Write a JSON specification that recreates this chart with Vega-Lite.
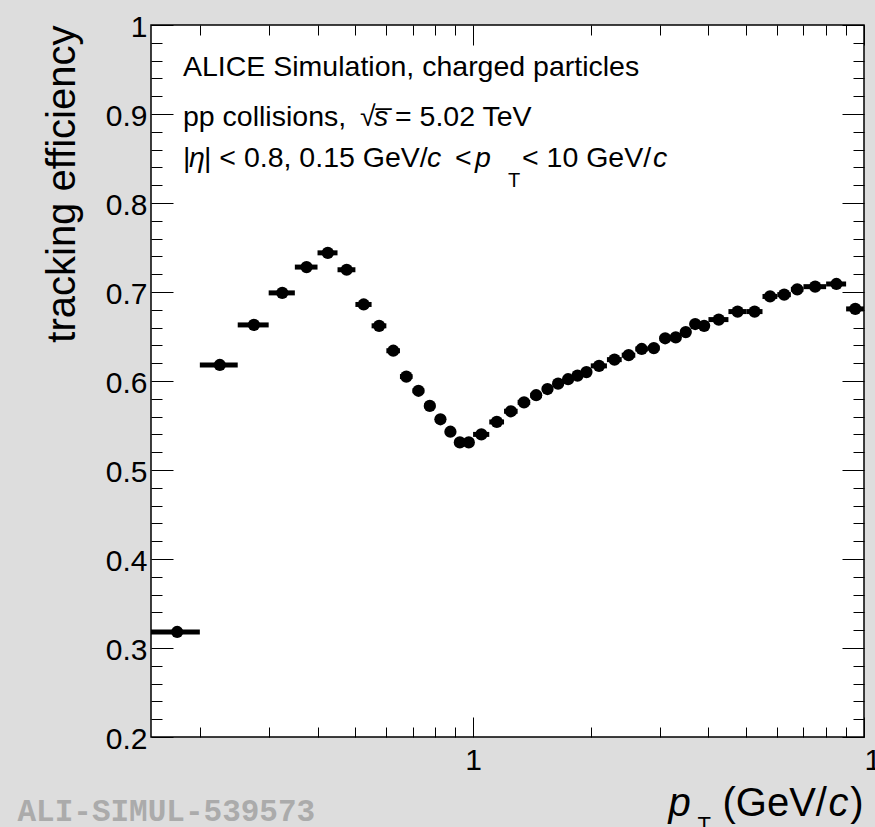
{
  "$schema": "https://vega.github.io/schema/vega-lite/v6.json",
  "width": 713,
  "height": 712,
  "autosize": {"type": "none"},
  "padding": {"left": 151, "top": 25, "right": 11, "bottom": 90},
  "background": "#dddddd",
  "config": {
    "view": {"fill": "white", "stroke": "black", "strokeWidth": 1.5},
    "axis": {
      "domain": false, "grid": false, "tickColor": "black", "tickWidth": 1,
      "labelFont": "Liberation Sans", "labelFontSize": 30, "labelColor": "black",
      "titleFont": "Liberation Sans", "titleFontSize": 40, "titleColor": "black", "titleFontWeight": "normal"
    },
    "text": {"font": "Liberation Sans", "fontSize": 28.5, "color": "black", "align": "left", "baseline": "alphabetic"}
  },
  "datasets": {
    "bins": [
      {"pt": 0.175, "lo": 0.15, "hi": 0.2, "eff": 0.318},
      {"pt": 0.225, "lo": 0.2, "hi": 0.25, "eff": 0.618},
      {"pt": 0.275, "lo": 0.25, "hi": 0.3, "eff": 0.663},
      {"pt": 0.325, "lo": 0.3, "hi": 0.35, "eff": 0.699},
      {"pt": 0.375, "lo": 0.35, "hi": 0.4, "eff": 0.728},
      {"pt": 0.425, "lo": 0.4, "hi": 0.45, "eff": 0.744},
      {"pt": 0.475, "lo": 0.45, "hi": 0.5, "eff": 0.725},
      {"pt": 0.525, "lo": 0.5, "hi": 0.55, "eff": 0.686},
      {"pt": 0.575, "lo": 0.55, "hi": 0.6, "eff": 0.662},
      {"pt": 0.625, "lo": 0.6, "hi": 0.65, "eff": 0.634},
      {"pt": 0.675, "lo": 0.65, "hi": 0.7, "eff": 0.605},
      {"pt": 0.725, "lo": 0.7, "hi": 0.75, "eff": 0.589},
      {"pt": 0.775, "lo": 0.75, "hi": 0.8, "eff": 0.572},
      {"pt": 0.825, "lo": 0.8, "hi": 0.85, "eff": 0.557},
      {"pt": 0.875, "lo": 0.85, "hi": 0.9, "eff": 0.543},
      {"pt": 0.925, "lo": 0.9, "hi": 0.95, "eff": 0.531},
      {"pt": 0.975, "lo": 0.95, "hi": 1.0, "eff": 0.531},
      {"pt": 1.05, "lo": 1.0, "hi": 1.1, "eff": 0.540},
      {"pt": 1.15, "lo": 1.1, "hi": 1.2, "eff": 0.554},
      {"pt": 1.25, "lo": 1.2, "hi": 1.3, "eff": 0.566},
      {"pt": 1.35, "lo": 1.3, "hi": 1.4, "eff": 0.576},
      {"pt": 1.45, "lo": 1.4, "hi": 1.5, "eff": 0.584},
      {"pt": 1.55, "lo": 1.5, "hi": 1.6, "eff": 0.591},
      {"pt": 1.65, "lo": 1.6, "hi": 1.7, "eff": 0.597},
      {"pt": 1.75, "lo": 1.7, "hi": 1.8, "eff": 0.602},
      {"pt": 1.85, "lo": 1.8, "hi": 1.9, "eff": 0.606},
      {"pt": 1.95, "lo": 1.9, "hi": 2.0, "eff": 0.610},
      {"pt": 2.1, "lo": 2.0, "hi": 2.2, "eff": 0.617},
      {"pt": 2.3, "lo": 2.2, "hi": 2.4, "eff": 0.624},
      {"pt": 2.5, "lo": 2.4, "hi": 2.6, "eff": 0.629},
      {"pt": 2.7, "lo": 2.6, "hi": 2.8, "eff": 0.636},
      {"pt": 2.9, "lo": 2.8, "hi": 3.0, "eff": 0.637},
      {"pt": 3.1, "lo": 3.0, "hi": 3.2, "eff": 0.648},
      {"pt": 3.3, "lo": 3.2, "hi": 3.4, "eff": 0.649},
      {"pt": 3.5, "lo": 3.4, "hi": 3.6, "eff": 0.655},
      {"pt": 3.7, "lo": 3.6, "hi": 3.8, "eff": 0.664},
      {"pt": 3.9, "lo": 3.8, "hi": 4.0, "eff": 0.662},
      {"pt": 4.25, "lo": 4.0, "hi": 4.5, "eff": 0.669},
      {"pt": 4.75, "lo": 4.5, "hi": 5.0, "eff": 0.678},
      {"pt": 5.25, "lo": 5.0, "hi": 5.5, "eff": 0.678},
      {"pt": 5.75, "lo": 5.5, "hi": 6.0, "eff": 0.695},
      {"pt": 6.25, "lo": 6.0, "hi": 6.5, "eff": 0.697},
      {"pt": 6.75, "lo": 6.5, "hi": 7.0, "eff": 0.703},
      {"pt": 7.5, "lo": 7.0, "hi": 8.0, "eff": 0.706},
      {"pt": 8.5, "lo": 8.0, "hi": 9.0, "eff": 0.709},
      {"pt": 9.5, "lo": 9.0, "hi": 10.0, "eff": 0.681}
    ],
    "labelsNormal": [
      {"x": 0.1811, "y": 0.9427, "text": "ALICE Simulation, charged particles"},
      {"x": 0.1811, "y": 0.8865, "text": "pp collisions,"},
      {"x": 0.5138, "y": 0.8865, "text": "√"},
      {"x": 0.6314, "y": 0.8865, "text": "= 5.02 TeV"},
      {"x": 0.1811, "y": 0.8404, "text": "|"},
      {"x": 0.2050, "y": 0.8404, "text": "| < 0.8, 0.15 GeV/"},
      {"x": 0.8989, "y": 0.8404, "text": "<"},
      {"x": 1.3341, "y": 0.8404, "text": "< 10 GeV/"}
    ],
    "labelsItalic": [
      {"x": 0.5579, "y": 0.8865, "text": "s̅"},
      {"x": 0.1876, "y": 0.8404, "text": "η"},
      {"x": 0.7623, "y": 0.8404, "text": "c"},
      {"x": 1.0115, "y": 0.8404, "text": "p"},
      {"x": 2.886, "y": 0.8404, "text": "c"}
    ],
    "labelsSub": [
      {"x": 1.2284, "y": 0.8180, "text": "T"}
    ]
  },
  "resolve": {"axis": {"x": "independent", "y": "independent"}},
  "layer": [
    {
      "data": {"name": "bins"},
      "mark": {"type": "rule", "color": "black", "strokeWidth": 5},
      "encoding": {
        "x": {
          "field": "lo", "type": "quantitative",
          "scale": {"type": "log", "domain": [0.15, 10], "nice": false},
          "axis": {
            "orient": "bottom", "values": [1, 10], "tickSize": -20, "format": "~g", "labelPadding": 28,
            "labelAlign": {"condition": {"test": "datum.value == 10", "value": "left"}, "value": "center"},
            "title": "p", "titleFontStyle": "italic", "titleX": 517, "titleY": 78, "titleAlign": "left", "titleBaseline": "alphabetic"
          }
        },
        "x2": {"field": "hi"},
        "y": {
          "field": "eff", "type": "quantitative",
          "scale": {"domain": [0.2, 1], "nice": false, "zero": false},
          "axis": {
            "orient": "left", "values": [0.2, 0.3, 0.4, 0.5, 0.6, 0.7, 0.8, 0.9, 1], "tickSize": -22, "format": "~g", "labelPadding": 26, "labelOffset": 2,
            "title": "tracking efficiency", "titleAngle": 270, "titleX": -69, "titleY": 0, "titleAlign": "right", "titleBaseline": "bottom"
          }
        }
      }
    },
    {
      "data": {"name": "bins"},
      "mark": {"type": "point", "filled": true, "color": "black", "opacity": 1, "size": 150},
      "encoding": {
        "x": {
          "field": "pt", "type": "quantitative",
          "scale": {"type": "log", "domain": [0.15, 10], "nice": false},
          "axis": {
            "orient": "bottom", "values": [0.2, 0.3, 0.4, 0.5, 0.6, 0.7, 0.8, 0.9, 2, 3, 4, 5, 6, 7, 8, 9], "tickSize": -10, "labels": false,
            "title": "(GeV/", "titleX": 571, "titleY": 78, "titleAlign": "left", "titleBaseline": "alphabetic"
          }
        },
        "y": {
          "field": "eff", "type": "quantitative",
          "scale": {"domain": [0.2, 1], "nice": false, "zero": false},
          "axis": {
            "orient": "left", "values": [0.22, 0.24, 0.26, 0.28, 0.32, 0.34, 0.36, 0.38, 0.42, 0.44, 0.46, 0.48, 0.52, 0.54, 0.56, 0.58, 0.62, 0.64, 0.66, 0.68, 0.72, 0.74, 0.76, 0.78, 0.82, 0.84, 0.86, 0.88, 0.92, 0.94, 0.96, 0.98],
            "tickSize": -11, "labels": false,
            "title": "T", "titleFontSize": 22, "titleAngle": 0, "titleX": 546, "titleY": 806, "titleAlign": "left", "titleBaseline": "alphabetic"
          }
        }
      }
    },
    {
      "data": {"name": "labelsNormal"},
      "mark": {"type": "text"},
      "encoding": {
        "x": {
          "field": "x", "type": "quantitative",
          "scale": {"type": "log", "domain": [0.15, 10], "nice": false},
          "axis": {
            "orient": "top", "values": [1, 10], "tickSize": -20, "labels": false,
            "title": "c", "titleFontStyle": "italic", "titleX": 677, "titleY": 790, "titleAlign": "left", "titleBaseline": "alphabetic"
          }
        },
        "y": {
          "field": "y", "type": "quantitative",
          "scale": {"domain": [0.2, 1], "nice": false, "zero": false},
          "axis": {
            "orient": "right", "values": [0.2, 0.3, 0.4, 0.5, 0.6, 0.7, 0.8, 0.9, 1], "tickSize": -22, "labels": false,
            "title": "ALI-SIMUL-539573", "titleAngle": 0, "titleFont": "Liberation Mono", "titleFontWeight": "bold", "titleColor": "#ababab", "titleFontSize": 31,
            "titleX": -847, "titleY": 795, "titleAlign": "left", "titleBaseline": "alphabetic"
          }
        },
        "text": {"field": "text", "type": "nominal"}
      }
    },
    {
      "data": {"name": "labelsItalic"},
      "mark": {"type": "text", "fontStyle": "italic"},
      "encoding": {
        "x": {
          "field": "x", "type": "quantitative",
          "scale": {"type": "log", "domain": [0.15, 10], "nice": false},
          "axis": {
            "orient": "top", "values": [0.2, 0.3, 0.4, 0.5, 0.6, 0.7, 0.8, 0.9, 2, 3, 4, 5, 6, 7, 8, 9], "tickSize": -10, "labels": false,
            "title": ")", "titleX": 712, "titleY": 790, "titleAlign": "right", "titleBaseline": "alphabetic"
          }
        },
        "y": {
          "field": "y", "type": "quantitative",
          "scale": {"domain": [0.2, 1], "nice": false, "zero": false},
          "axis": {
            "orient": "right", "values": [0.22, 0.24, 0.26, 0.28, 0.32, 0.34, 0.36, 0.38, 0.42, 0.44, 0.46, 0.48, 0.52, 0.54, 0.56, 0.58, 0.62, 0.64, 0.66, 0.68, 0.72, 0.74, 0.76, 0.78, 0.82, 0.84, 0.86, 0.88, 0.92, 0.94, 0.96, 0.98],
            "tickSize": -11, "labels": false, "title": null
          }
        },
        "text": {"field": "text", "type": "nominal"}
      }
    },
    {
      "data": {"name": "labelsSub"},
      "mark": {"type": "text", "fontSize": 20},
      "encoding": {
        "x": {"field": "x", "type": "quantitative", "scale": {"type": "log", "domain": [0.15, 10], "nice": false}, "axis": null},
        "y": {"field": "y", "type": "quantitative", "scale": {"domain": [0.2, 1], "nice": false, "zero": false}, "axis": null},
        "text": {"field": "text", "type": "nominal"}
      }
    }
  ]
}
